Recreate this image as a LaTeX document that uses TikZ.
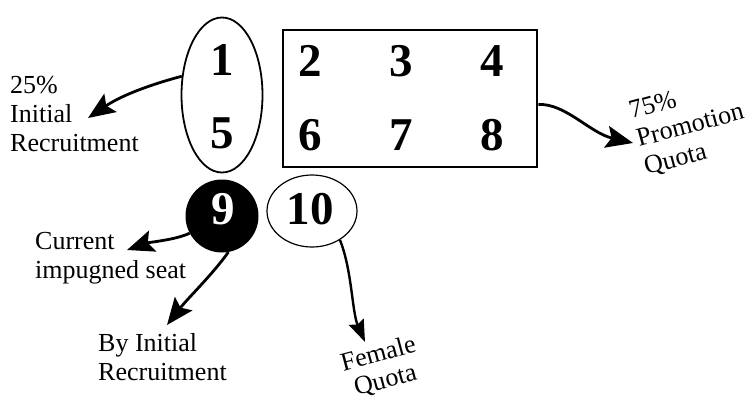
\documentclass[tikz,border=0pt]{standalone}
\usepackage{fontspec}
\setmainfont{Liberation Serif}
\usetikzlibrary{arrows.meta,shapes.geometric}
\begin{document}
\begin{tikzpicture}[x=1pt,y=-1pt,
  digit/.style={font=\fontsize{47}{47}\selectfont\bfseries, inner sep=0pt},
  lbl/.style={font=\fontsize{26}{29}\selectfont, align=left, inner sep=0pt},
  arr/.style={line width=2.8pt, -{Stealth[length=27pt,width=22pt,inset=5pt]}},
  arrs/.style={line width=2.4pt, -{Stealth[length=22pt,width=16pt,inset=3pt]}},
]
\useasboundingbox (0,0) rectangle (752,415);
% shapes
\node[ellipse, draw, line width=1.8pt, minimum width=81pt, minimum height=155pt, inner sep=0pt] (e15) at (222,95) {};
\node[digit] (n1) at (222,60) {1};
\node[digit] (n5) at (222,133) {5};
\node[draw, line width=2.6pt, minimum width=254pt, minimum height=137pt, inner sep=0pt] (box) at (410,98.5) {};
\node[digit] (n2) at (310,61) {2};
\node[digit] (n3) at (401,61) {3};
\node[digit] (n4) at (492,61) {4};
\node[digit] (n6) at (310,135) {6};
\node[digit] (n7) at (401,135) {7};
\node[digit] (n8) at (492,135) {8};
\node[circle, fill=black, minimum size=73pt, inner sep=0pt] (c9) at (222,216) {};
\node[digit, text=white] (n9) at (223,209) {9};
\node[ellipse, draw, line width=1.2pt, minimum width=90pt, minimum height=72pt, inner sep=0pt] (e10) at (312,211) {};
\node[digit] (n10) at (310,209) {10};
% labels
\node[lbl, anchor=north west] (l25) at (10,76) {25\%\\Initial\\Recruitment};
\node[lbl, anchor=north west, rotate=15] (l75) at (627,102) {75\%\\Promotion\\Quota};
\node[lbl, anchor=north west] (lcur) at (35,232) {Current\\impugned seat};
\node[lbl, anchor=north west] (lby) at (98,333) {By Initial\\Recruitment};
\node[lbl, align=center, rotate=15, font=\fontsize{26}{27}\selectfont] (lfem) at (382,368) {Female\\Quota};
% arrow tips
\coordinate (t1) at (88,118);
\coordinate (t2) at (633,143);
\coordinate (t3) at (127,250);
\coordinate (t4) at (167,325);
\coordinate (t5) at (365,342);
% arrows
\draw[arr] (e15.155) .. controls (160,82) and (125,93) .. (t1);
\draw[arr] ([yshift=-6pt]box.east) .. controls (565,103) and (590,133) .. (t2);
\draw[arr] (c9.208) .. controls (175,240) and (150,242) .. (t3);
\draw[arr] (c9.280) .. controls (212,275) and (188,298) .. (t4);
\draw[arrs] (e10.314) .. controls (352,270) and (352,312) .. (t5);
\end{tikzpicture}
\end{document}
